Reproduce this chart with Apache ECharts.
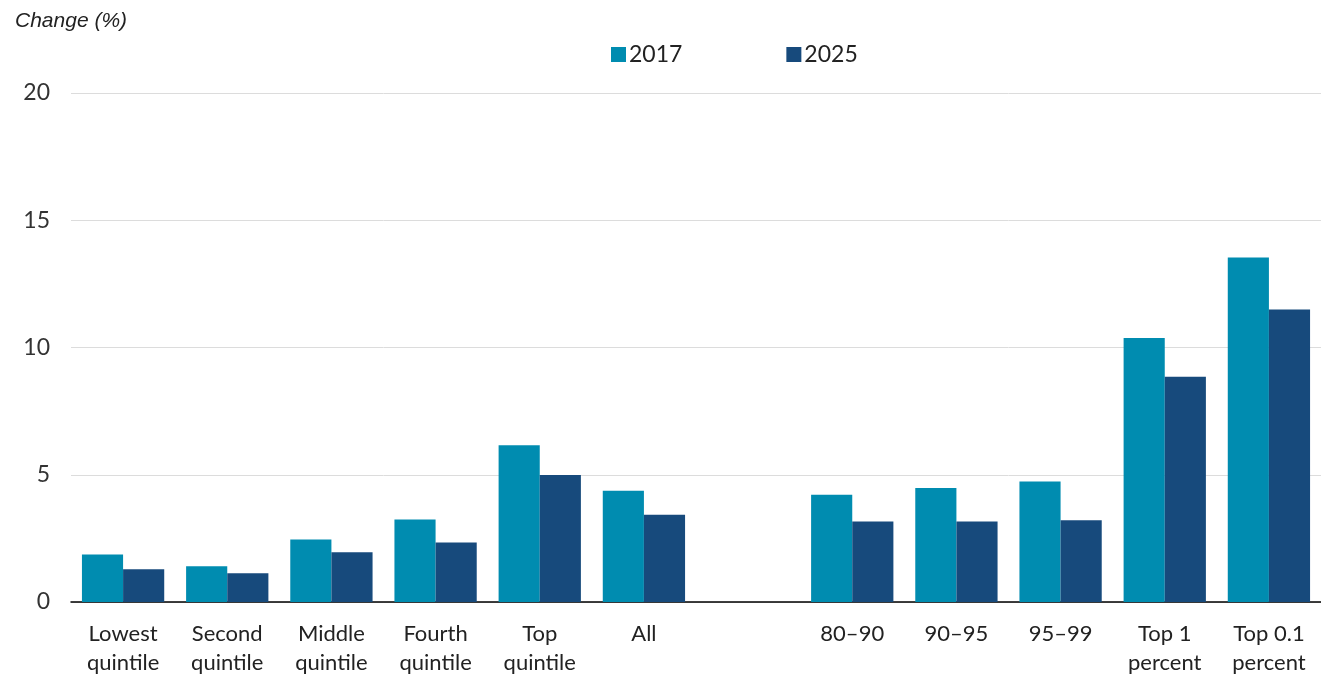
<!DOCTYPE html>
<html>
<head>
<meta charset="utf-8">
<script src="https://cdn.jsdelivr.net/npm/echarts@6/dist/echarts.min.js"></script>
<style>
html, body { margin: 0; padding: 0; background: #fff; }
#chart { width: 1321px; height: 677px; }
</style>
</head>
<body>
<div id="chart"></div>
<script>
var categories = ['Lowest\nquintile', 'Second\nquintile', 'Middle\nquintile', 'Fourth\nquintile', 'Top\nquintile', 'All', '',
    '80–90', '90–95', '95–99', 'Top 1\npercent', 'Top 0.1\npercent'];
var values2017 = [1.87, 1.40, 2.46, 3.24, 6.16, 4.37, null, 4.21, 4.48, 4.73, 10.37, 13.54];
var values2025 = [1.29, 1.13, 1.95, 2.34, 4.99, 3.43, null, 3.16, 3.16, 3.21, 8.85, 11.49];
var yTicks = [0, 5, 10, 15, 20];

var myChart = echarts.init(document.getElementById('chart'));
var option = {
    animation: false,
    textStyle: { fontFamily: 'Lato' },
    title: {
        text: 'Change (%)',
        left: 10,
        top: 6,
        textStyle: { fontFamily: 'Liberation Sans', fontStyle: 'italic', fontWeight: 'normal', fontSize: 21, color: '#222' }
    },
    legend: {
        data: ['2017', '2025'],
        left: 606,
        top: 38,
        itemWidth: 15,
        itemHeight: 15,
        itemGap: 104,
        icon: 'rect',
        textStyle: { fontSize: 23, color: '#222', padding: [0, 0, 0, -2] }
    },
    grid: { left: 71, right: 0, top: 93, bottom: 71 },
    xAxis: {
        type: 'category',
        data: categories,
        axisLine: { lineStyle: { color: '#000', width: 1.5 } },
        axisTick: { show: false },
        axisLabel: { fontSize: 22, color: '#222', lineHeight: 29, margin: 17, interval: 0 }
    },
    yAxis: {
        type: 'value',
        min: yTicks[0],
        max: yTicks[yTicks.length - 1],
        interval: 5,
        axisLine: { show: false },
        axisTick: { show: false },
        axisLabel: { fontSize: 23, color: '#333', margin: 21 },
        splitLine: { lineStyle: { color: '#dcdcdc', width: 1 } }
    },
    series: [
        {
            name: '2017',
            type: 'bar',
            data: values2017,
            barGap: 0,
            barCategoryGap: '21%',
            itemStyle: { color: '#008cb0' }
        },
        {
            name: '2025',
            type: 'bar',
            data: values2025,
            itemStyle: { color: '#174a7c' }
        }
    ]
};
myChart.setOption(option);
</script>
</body>
</html>
